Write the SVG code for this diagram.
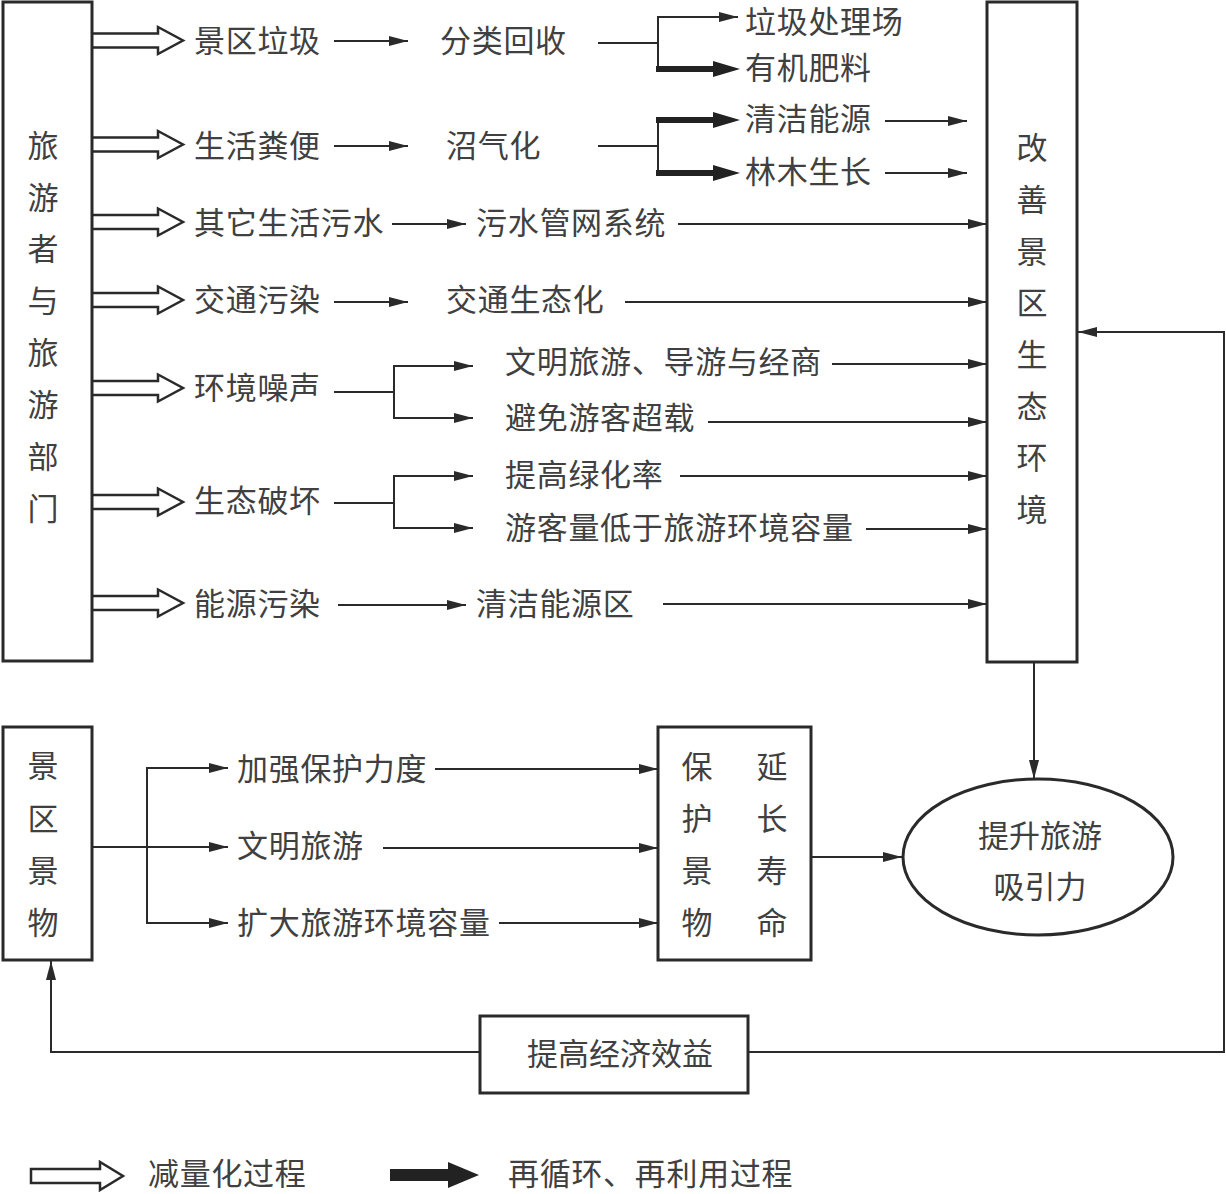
<svg xmlns="http://www.w3.org/2000/svg" width="1226" height="1194" viewBox="0 0 1226 1194">
<defs>
<style>
text{font-family:"Noto Sans CJK SC","Noto Sans",sans-serif;font-size:31px;letter-spacing:0.7px;fill:#404040;dominant-baseline:central}
.box{fill:#fff;stroke:#2a2a2a;stroke-width:3}
.ln{fill:none;stroke:#2a2a2a;stroke-width:2}
.arr{fill:none;stroke:#2a2a2a;stroke-width:2;marker-end:url(#ah)}
.hollow{fill:#fff;stroke:#2a2a2a;stroke-width:2.5;stroke-linejoin:miter}
.thick{fill:#222;stroke:none}
.vc{text-anchor:middle;letter-spacing:0}
</style>
<marker id="ah" markerUnits="userSpaceOnUse" markerWidth="20" markerHeight="12" refX="19" refY="5" orient="auto">
<path d="M0,0 L19,5 L0,10 Z" fill="#2a2a2a"/>
</marker>
</defs>
<rect width="1226" height="1194" fill="#fff"/>

<g id="connectors">
<path class="hollow" d="M92,33.5 H158 V27 L183,40.5 L158,54 V47.5 H92"/>
<path class="hollow" d="M92,137.5 H158 V131 L183,144.5 L158,158 V151.5 H92"/>
<path class="hollow" d="M92,215 H158 V208.5 L183,222 L158,235.5 V229 H92"/>
<path class="hollow" d="M92,293 H158 V286.5 L183,300 L158,313.5 V307 H92"/>
<path class="hollow" d="M92,381 H158 V374.5 L183,388 L158,401.5 V395 H92"/>
<path class="hollow" d="M92,495 H158 V488.5 L183,502 L158,515.5 V509 H92"/>
<path class="hollow" d="M92,596 H158 V589.5 L183,603 L158,616.5 V610 H92"/>

<line class="arr" x1="334" y1="41" x2="408" y2="41"/>
<line class="arr" x1="334" y1="146" x2="408" y2="146"/>
<line class="arr" x1="392" y1="224" x2="466" y2="224"/>
<line class="arr" x1="334" y1="302" x2="408" y2="302"/>
<line class="arr" x1="338" y1="605" x2="466" y2="605"/>

<polyline class="ln" points="598,43 658,43"/>
<polyline class="ln" points="658,69 658,17 700,17"/>
<line class="arr" x1="690" y1="17" x2="738" y2="17"/>
<path class="thick" d="M656,66 H713 V61 L740,69 L713,77 V72 H656 Z"/>

<polyline class="ln" points="598,146 658,146"/>
<line class="ln" x1="658" y1="118" x2="658" y2="175"/>
<path class="thick" d="M656,117 H713 V112 L740,120 L713,128 V123 H656 Z"/>
<path class="thick" d="M656,170 H713 V165 L740,173 L713,181 V176 H656 Z"/>

<line class="arr" x1="885" y1="121" x2="967" y2="121"/>
<line class="arr" x1="885" y1="173" x2="967" y2="173"/>

<line class="arr" x1="678" y1="224" x2="987" y2="224"/>
<line class="arr" x1="625" y1="302" x2="987" y2="302"/>
<line class="arr" x1="832" y1="364" x2="987" y2="364"/>
<line class="arr" x1="708" y1="422" x2="987" y2="422"/>
<line class="arr" x1="680" y1="476" x2="987" y2="476"/>
<line class="arr" x1="866" y1="529" x2="987" y2="529"/>
<line class="arr" x1="663" y1="604" x2="987" y2="604"/>

<polyline class="ln" points="334,392 394,392"/>
<polyline class="ln" points="420,366 394,366 394,418 420,418"/>
<line class="arr" x1="410" y1="366" x2="473" y2="366"/>
<line class="arr" x1="410" y1="418" x2="473" y2="418"/>

<polyline class="ln" points="334,503 394,503"/>
<polyline class="ln" points="420,476 394,476 394,528 420,528"/>
<line class="arr" x1="410" y1="476" x2="473" y2="476"/>
<line class="arr" x1="410" y1="528" x2="473" y2="528"/>

<line class="arr" x1="1034" y1="662" x2="1034" y2="779"/>

<polyline class="arr" points="748,1052 1224,1052 1224,332 1078,332"/>
<polyline class="arr" points="480,1052 51,1052 51,961"/>

<polyline class="ln" points="92,847 147,847"/>
<polyline class="ln" points="180,768 147,768 147,923 180,923"/>
<line class="arr" x1="147" y1="768" x2="228" y2="768"/>
<line class="arr" x1="147" y1="847" x2="228" y2="847"/>
<line class="arr" x1="147" y1="923" x2="228" y2="923"/>

<line class="arr" x1="435" y1="769" x2="658" y2="769"/>
<line class="arr" x1="383" y1="848" x2="658" y2="848"/>
<line class="arr" x1="499" y1="923" x2="658" y2="923"/>

<line class="arr" x1="811" y1="857" x2="902" y2="857"/>
</g>

<g id="node-tourists">
<rect class="box" x="3" y="2" width="89" height="659"/>
<text class="vc" x="43" y="143">旅</text>
<text class="vc" x="43" y="195">游</text>
<text class="vc" x="43" y="246">者</text>
<text class="vc" x="43" y="298">与</text>
<text class="vc" x="43" y="350">旅</text>
<text class="vc" x="43" y="402">游</text>
<text class="vc" x="43" y="454">部</text>
<text class="vc" x="43" y="506">门</text>
</g>

<g id="node-improve">
<rect class="box" x="987" y="2" width="90" height="660"/>
<text class="vc" x="1032" y="145">改</text>
<text class="vc" x="1032" y="197">善</text>
<text class="vc" x="1032" y="249">景</text>
<text class="vc" x="1032" y="300">区</text>
<text class="vc" x="1032" y="352">生</text>
<text class="vc" x="1032" y="404">态</text>
<text class="vc" x="1032" y="455">环</text>
<text class="vc" x="1032" y="507">境</text>
</g>

<g id="node-labels">
<text x="194" y="38">景区垃圾</text>
<text x="194" y="143">生活粪便</text>
<text x="194" y="220">其它生活污水</text>
<text x="194" y="297">交通污染</text>
<text x="194" y="385">环境噪声</text>
<text x="194" y="498">生态破坏</text>
<text x="194" y="601">能源污染</text>
<text x="440" y="38">分类回收</text>
<text x="446" y="143">沼气化</text>
<text x="476" y="220">污水管网系统</text>
<text x="446" y="297">交通生态化</text>
<text x="745" y="19">垃圾处理场</text>
<text x="745" y="65">有机肥料</text>
<text x="745" y="116">清洁能源</text>
<text x="745" y="169">林木生长</text>
<text x="505" y="359">文明旅游、导游与经商</text>
<text x="505" y="415">避免游客超载</text>
<text x="505" y="472">提高绿化率</text>
<text x="505" y="525">游客量低于旅游环境容量</text>
<text x="476" y="601">清洁能源区</text>
</g>

<g id="node-scenery">
<rect class="box" x="3" y="727" width="89" height="233"/>
<text class="vc" x="43" y="763">景</text>
<text class="vc" x="43" y="816">区</text>
<text class="vc" x="43" y="868">景</text>
<text class="vc" x="43" y="920">物</text>
</g>

<g id="node-measures">
<text x="237" y="766">加强保护力度</text>
<text x="237" y="843">文明旅游</text>
<text x="237" y="920">扩大旅游环境容量</text>
</g>

<g id="node-protect">
<rect class="box" x="658" y="727" width="153" height="233"/>
<text class="vc" x="697" y="764">保</text>
<text class="vc" x="697" y="816">护</text>
<text class="vc" x="697" y="868">景</text>
<text class="vc" x="697" y="920">物</text>
<text class="vc" x="772" y="764">延</text>
<text class="vc" x="772" y="816">长</text>
<text class="vc" x="772" y="868">寿</text>
<text class="vc" x="772" y="920">命</text>
</g>

<g id="node-attraction">
<ellipse class="box" cx="1038" cy="857" rx="135" ry="78"/>
<text class="vc" x="1040" y="833">提升旅游</text>
<text class="vc" x="1040" y="884">吸引力</text>
</g>

<g id="node-economy">
<rect class="box" x="480" y="1016" width="268" height="77"/>
<text class="vc" x="620" y="1051">提高经济效益</text>
</g>

<g id="legend">
<path class="hollow" d="M31,1169 H100 V1162 L123,1176 L100,1190 V1183 H31 Z"/>
<text x="148" y="1171">减量化过程</text>
<path class="thick" d="M390,1169 H448 V1162 L479,1175 L448,1188 V1181 H390 Z"/>
<text x="508" y="1171">再循环、再利用过程</text>
</g>
</svg>
